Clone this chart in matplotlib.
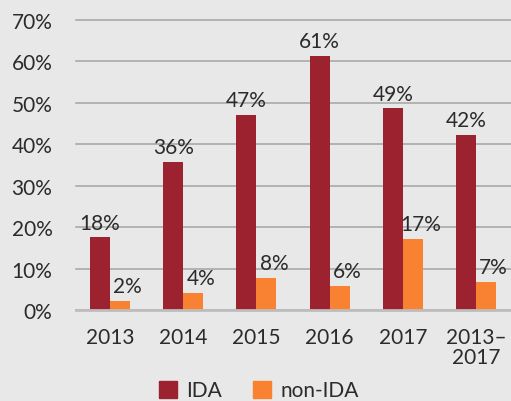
import matplotlib
matplotlib.use("Agg")
import matplotlib.pyplot as plt
import numpy as np
from matplotlib.patches import Patch

categories = ["2013", "2014", "2015", "2016", "2017", "2013–\n2017"]
ida = [17.5, 35.8, 47.1, 61.2, 48.6, 42.3]
non_ida = [2.2, 4.1, 7.7, 5.8, 17.1, 6.7]
yticks = [0, 10, 20, 30, 40, 50, 60, 70]
ytick_labels = ["0%", "10%", "20%", "30%", "40%", "50%", "60%", "70%"]

plt.rcParams['font.family'] = ['Lato', 'DejaVu Sans']
text_color = "#2b2b2b"
bg = "#e8e8e8"
c_ida = "#9b222e"
c_non = "#f88132"

W, H = 511, 402
fig = plt.figure(figsize=(W / 100, H / 100), dpi=100, facecolor=bg)
ax = fig.add_axes([76 / W, 91 / H, (W - 76) / W, (311 - 20.7) / H])
ax.set_facecolor(bg)

x = np.arange(len(categories))
bw = 0.273
ax.bar(x - bw / 2, ida, bw, color=c_ida, zorder=3)
ax.bar(x + bw / 2, non_ida, bw, color=c_non, zorder=3)

for xi, v in zip(x, ida):
    ax.annotate(f"{round(v)}%", (xi - bw / 2, v), xytext=(0, 3.5), textcoords="offset points",
                ha="center", va="bottom", fontsize=15, color=text_color)
for xi, v in zip(x, non_ida):
    ax.annotate(f"{round(v)}%", (xi + bw / 2, v), xytext=(5.5, 3.5), textcoords="offset points",
                ha="center", va="bottom", fontsize=15, color=text_color)

ax.set_xlim(-0.464, 5.478)
ax.set_ylim(0, 70)
ax.set_yticks(yticks)
ax.set_yticklabels(ytick_labels)
ax.set_xticks(x)
ax.set_xticklabels(categories, linespacing=1.05)
ax.tick_params(axis="y", length=0, pad=17, labelsize=15, labelcolor=text_color)
ax.tick_params(axis="x", length=0, pad=12, labelsize=15, labelcolor=text_color)

ax.grid(axis="y", color="#a3a3a3", linewidth=1.1, zorder=0)
ax.set_axisbelow(True)
for s in ["top", "right", "left"]:
    ax.spines[s].set_visible(False)
ax.spines["bottom"].set_color("#bdbdbd")
ax.spines["bottom"].set_linewidth(2)
ax.spines["bottom"].set_zorder(4)
for gl in ax.get_ygridlines():
    gl.set_clip_on(False)

handles = [Patch(color=c_ida, label="IDA"), Patch(color=c_non, label="non-IDA")]
fig.legend(handles=handles, loc="center", bbox_to_anchor=(259 / W, 1 - 391.5 / H), ncol=2,
           frameon=False, fontsize=15, handlelength=0.85, handleheight=0.85,
           handletextpad=0.45, columnspacing=1.5, labelcolor=text_color)

fig.savefig("out.png", dpi=100, facecolor=bg)
